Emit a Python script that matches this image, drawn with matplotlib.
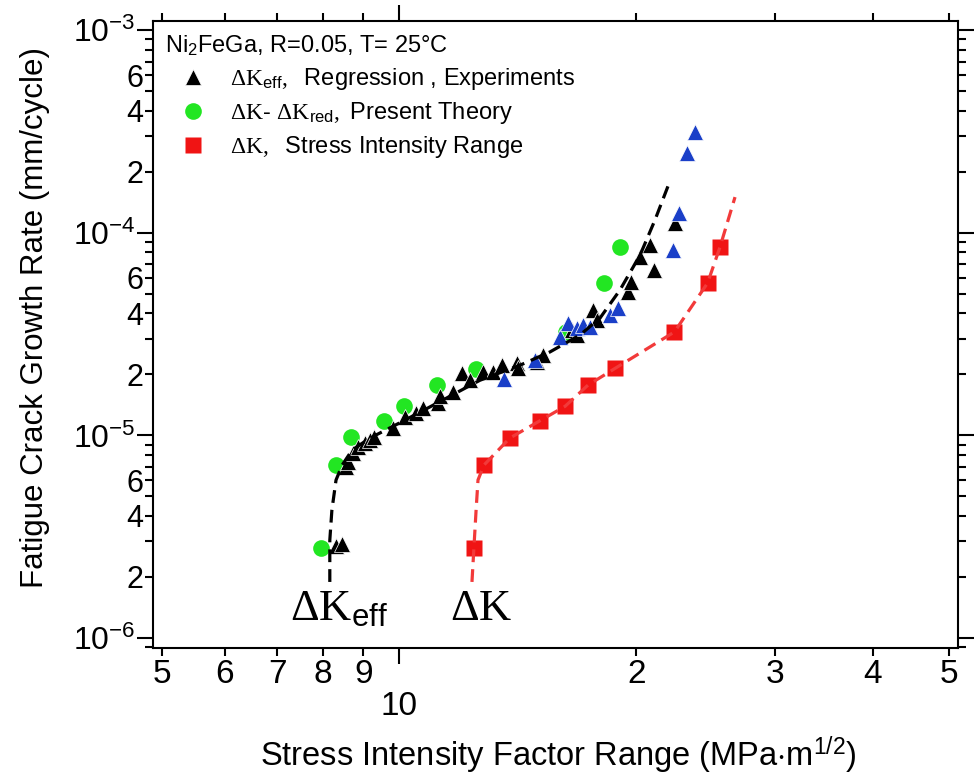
import matplotlib
matplotlib.use('Agg')
import matplotlib.pyplot as plt
from matplotlib.ticker import FixedLocator, FixedFormatter, FuncFormatter
import numpy as np

# --- data (dK in MPa m^1/2, da/dN in mm/cycle) ---
# dK_eff experiments (black triangles)
exp_dk = [8.31, 8.46, 8.56, 8.61, 8.73, 8.86, 9.04, 9.18, 9.30, 9.82, 10.17, 10.50,
          10.72, 11.20, 11.26, 11.70, 12.01, 12.30, 12.78, 13.15, 13.51, 14.11, 14.15,
          14.96, 15.23, 16.58, 16.82, 17.63, 17.83, 19.52, 19.70, 20.23, 20.84, 21.07,
          22.40]
exp_rate = [2.84e-6, 2.91e-6, 6.97e-6, 7.40e-6, 8.18e-6, 8.76e-6, 9.20e-6, 9.48e-6,
            9.81e-6, 1.09e-5, 1.23e-5, 1.29e-5, 1.36e-5, 1.44e-5, 1.56e-5, 1.64e-5,
            2.03e-5, 1.87e-5, 2.05e-5, 2.05e-5, 2.22e-5, 2.27e-5, 2.15e-5, 2.30e-5,
            2.49e-5, 3.31e-5, 3.13e-5, 4.15e-5, 3.71e-5, 5.10e-5, 5.71e-5, 7.59e-5,
            8.70e-5, 6.54e-5, 1.12e-4]

# second experimental set (blue triangles)
exp2_dk = [13.58, 14.87, 16.00, 16.38, 16.80, 17.12, 17.47, 18.52, 18.96, 22.28,
           22.65, 23.21, 23.76]
exp2_rate = [1.89e-5, 2.35e-5, 3.06e-5, 3.58e-5, 3.40e-5, 3.50e-5, 3.42e-5, 3.92e-5,
             4.25e-5, 8.21e-5, 1.25e-4, 2.48e-4, 3.15e-4]

# dK - dK_red, present theory (green circles)
theory_dk = [7.95, 8.30, 8.69, 9.55, 10.15, 11.16, 12.52, 16.29, 18.20, 19.05]
theory_rate = [2.78e-6, 7.13e-6, 9.81e-6, 1.18e-5, 1.39e-5, 1.77e-5, 2.12e-5,
               3.24e-5, 5.65e-5, 8.50e-5]

# dK, stress intensity range (red squares)
range_dk = [12.44, 12.81, 13.82, 15.09, 16.24, 17.37, 18.80, 22.37, 24.65, 25.56]
range_rate = [2.78e-6, 7.13e-6, 9.70e-6, 1.18e-5, 1.39e-5, 1.77e-5, 2.14e-5,
              3.24e-5, 5.65e-5, 8.50e-5]

# regression curves (dashed)
reg_eff_dk = [8.16, 8.16, 8.21, 8.31, 8.46, 8.71, 9.18, 9.87, 10.62, 11.60, 12.66,
              14.24, 15.54, 16.97, 17.99, 19.07, 20.23, 21.13, 22.08]
reg_eff_rate = [1.89e-6, 3.04e-6, 4.28e-6, 6.02e-6, 7.13e-6, 8.46e-6, 9.70e-6,
                1.12e-5, 1.30e-5, 1.56e-5, 1.87e-5, 2.22e-5, 2.58e-5, 3.13e-5,
                3.79e-5, 5.21e-5, 7.76e-5, 1.155e-4, 1.80e-4]
reg_dk_dk = [12.37, 12.44, 12.52, 12.59, 12.81, 13.82, 15.09, 16.24, 17.37, 18.80,
             22.37, 24.65, 25.56, 26.71]
reg_dk_rate = [1.89e-6, 2.78e-6, 4.28e-6, 6.02e-6, 7.13e-6, 9.70e-6, 1.18e-5,
               1.39e-5, 1.77e-5, 2.14e-5, 3.24e-5, 5.65e-5, 8.50e-5, 1.50e-4]

x_minor = [5, 6, 7, 8, 9, 20, 30, 40, 50]
x_minor_labels = ['5', '6', '7', '8', '9', '2', '3', '4', '5']
y_minor_labelled = (2, 4, 6)

plt.rcParams['font.family'] = ['Liberation Sans', 'DejaVu Sans']
plt.rcParams['mathtext.fontset'] = 'custom'
plt.rcParams['mathtext.rm'] = 'Liberation Serif'
plt.rcParams['mathtext.it'] = 'Liberation Serif:italic'
plt.rcParams['mathtext.bf'] = 'Liberation Serif:bold'
plt.rcParams['mathtext.sf'] = 'Liberation Sans'
plt.rcParams['axes.linewidth'] = 1.5

fig = plt.figure(figsize=(9.79, 7.77), dpi=100)
ax = fig.add_axes([0.156, 0.1664, 0.8226, 0.8068])
ax.set_xscale('log')
ax.set_yscale('log')

tri, = ax.plot(exp_dk, exp_rate, '^', color='black', ms=12, mec='white', mew=0.5,
               ls='none', zorder=3)
ax.plot(exp2_dk, exp2_rate, '^', color='#1a3fc8', ms=12, mec='white', mew=0.5,
        ls='none', zorder=3)
circ, = ax.plot(theory_dk, theory_rate, 'o', color='#22e622', ms=12, mec='none',
                ls='none', zorder=2)
sq, = ax.plot(range_dk, range_rate, 's', color='#f01414', ms=11, mec='none',
              ls='none', zorder=2)
ax.plot(reg_eff_dk, reg_eff_rate, color='black', lw=2.3, ls=(0, (4, 2.2)), zorder=4)
ax.plot(reg_dk_dk, reg_dk_rate, color='#f23a3a', lw=2.3, ls=(0, (4, 2.2)), zorder=4)

ax.set_xlim(4.86, 51.3)
ax.set_ylim(8.95e-7, 1.112e-3)

# x ticks: 10 is the only major tick, the rest are labelled minors
ax.xaxis.set_major_locator(FixedLocator([10]))
ax.xaxis.set_major_formatter(FixedFormatter(['10']))
ax.xaxis.set_minor_locator(FixedLocator(x_minor))
ax.xaxis.set_minor_formatter(FixedFormatter(x_minor_labels))

y_major = [10.0 ** e for e in range(-6, -2)]
y_minor = [k * 10.0 ** e for e in range(-7, -3) for k in range(2, 10)]
ax.yaxis.set_major_locator(FixedLocator(y_major))
ax.yaxis.set_major_formatter(FuncFormatter(
    lambda v, p: r'$\mathsf{10^{%d}}$' % int(round(np.log10(v)))))
ax.yaxis.set_minor_locator(FixedLocator(y_minor))


def minor_fmt(v, p):
    k = int(round(v / 10.0 ** np.floor(np.log10(v) + 1e-9)))
    return str(k) if k in y_minor_labelled else ''


ax.yaxis.set_minor_formatter(FuncFormatter(minor_fmt))

ax.tick_params(which='major', direction='out', length=11.5, width=1.5,
               top=True, right=True)
ax.tick_params(which='minor', direction='out', length=6, width=1.5,
               top=True, right=True)
ax.tick_params(axis='x', which='major', pad=20, labelsize=24)
ax.tick_params(axis='x', which='minor', pad=2, labelsize=24)
ax.tick_params(axis='y', which='major', labelsize=23, pad=1)
ax.tick_params(axis='y', which='minor', labelsize=22, pad=1)

ax.set_xlabel(r'Stress Intensity Factor Range (MPa$\cdot$m$^{\mathsf{1/2}}$)',
              fontsize=23.5)
ax.xaxis.set_label_coords(0.504, -0.138)
ax.set_ylabel('Fatigue Crack Growth Rate (mm/cycle)', fontsize=22.5)
ax.yaxis.set_label_coords(-0.128, 0.5275)

ax.text(0.0153, 0.960, r'Ni$_{\mathsf{2}}$FeGa, R=0.05, T= 25°C', fontsize=17,
        transform=ax.transAxes, va='center', ha='left')
ax.legend([tri, circ, sq],
          [r'$\Delta\mathrm{K}_{\mathsf{eff}},$  Regression , Experiments',
           r'$\Delta\mathrm{K}$- $\Delta\mathrm{K}_{\mathsf{red}},$ Present Theory',
           r'$\Delta\mathrm{K},$  Stress Intensity Range'],
          loc='upper left', bbox_to_anchor=(0.035, 0.928), frameon=False,
          fontsize=17, handlelength=1.0, handletextpad=1.1, labelspacing=0.35,
          borderpad=0, borderaxespad=0)

ax.text(0.1705, 0.0442, r'$\Delta\mathrm{K}_{\mathsf{eff}}$', fontsize=32,
        transform=ax.transAxes, va='baseline', ha='left')
ax.text(0.369, 0.0442, r'$\Delta\mathrm{K}$', fontsize=32,
        transform=ax.transAxes, va='baseline', ha='left')

fig.savefig('out.png', dpi=100)
